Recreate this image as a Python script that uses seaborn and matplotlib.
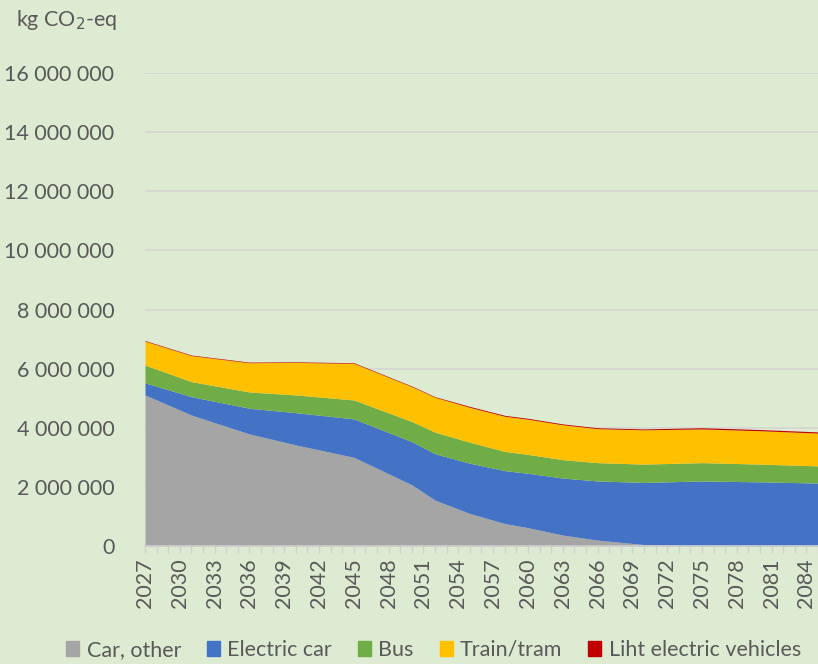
import matplotlib
matplotlib.use("Agg")
import matplotlib.pyplot as plt
from matplotlib.patches import Patch
from matplotlib.ticker import FuncFormatter, MultipleLocator
import numpy as np
import pandas as pd
import seaborn as sns

# values, in million kg CO2-eq, at the years where the curves bend
years = [2027, 2031, 2036, 2040, 2045, 2050, 2052, 2055, 2058, 2060, 2063, 2066, 2070, 2075, 2080, 2085]
car_other = [5.11, 4.43, 3.79, 3.42, 3.00, 2.07, 1.55, 1.10, 0.76, 0.62, 0.37, 0.20, 0.05, 0.00, 0.00, 0.00]
electric_car = [0.41, 0.62, 0.87, 1.09, 1.30, 1.46, 1.57, 1.70, 1.79, 1.84, 1.93, 2.00, 2.10, 2.20, 2.17, 2.13]
bus = [0.60, 0.51, 0.55, 0.60, 0.64, 0.68, 0.73, 0.71, 0.65, 0.64, 0.62, 0.62, 0.62, 0.62, 0.60, 0.58]
train_tram = [0.81, 0.88, 0.99, 1.10, 1.24, 1.18, 1.18, 1.18, 1.19, 1.19, 1.18, 1.15, 1.16, 1.14, 1.13, 1.11]
light_ev = [0.02, 0.02, 0.02, 0.02, 0.02, 0.02, 0.02, 0.03, 0.03, 0.03, 0.03, 0.03, 0.03, 0.04, 0.04, 0.04]

names = ["Car, other", "Electric car", "Bus", "Train/tram", "Liht electric vehicles"]
colors = ["#A5A5A5", "#4472C4", "#70AD47", "#FFC000", "#C00000"]

df = pd.DataFrame({"year": years, names[0]: car_other, names[1]: electric_car,
                   names[2]: bus, names[3]: train_tram, names[4]: light_ev})

bg = "#DEEBD3"
txt = "#595959"
fs = 15.5
sns.set_theme(style="white", rc={"axes.facecolor": bg, "figure.facecolor": bg})
plt.rcParams["font.family"] = ["Lato", "DejaVu Sans"]

fig = plt.figure(figsize=(8.18, 6.64), dpi=100)
ax = fig.add_axes([145 / 818, 1 - 546 / 664, 1 - 145 / 818, (546 - 73) / 664])

ax.stackplot(df["year"], *[df[n] * 1e6 for n in names], colors=colors, linewidth=0)

ax.set_xlim(2027, 2085)
ax.set_ylim(0, 16e6)
ax.yaxis.set_major_locator(MultipleLocator(2e6))
ax.yaxis.set_major_formatter(FuncFormatter(lambda v, p: f"{int(v):,}".replace(",", " ")))
ax.grid(axis="y", color="#D4D6D0", linewidth=1.2)
ax.set_axisbelow(True)

ax.set_xticks(range(2027, 2085, 3))
ax.xaxis.set_minor_locator(MultipleLocator(1))
ax.tick_params(axis="x", which="both", direction="out", length=5, color="#D0D0D0", width=1,
               labelrotation=90, labelsize=fs, labelcolor=txt, pad=4, bottom=True)
ax.tick_params(axis="y", length=0, labelsize=fs, labelcolor=txt, pad=22)

for s in ["top", "right", "left"]:
    ax.spines[s].set_visible(False)
ax.spines["bottom"].set_color("#D0D0D0")
ax.spines["bottom"].set_linewidth(1.2)

fig.text(16 / 818, 1 - 20 / 664, "kg CO$_2$-eq", fontsize=fs, color=txt, va="center", ha="left")

handles = [Patch(facecolor=c, edgecolor=c) for c in colors]
fig.legend(handles, names, loc="center", bbox_to_anchor=(0.53, 1 - 650 / 664), ncol=5,
           frameon=False, fontsize=fs, labelcolor=txt, handlelength=0.6, handleheight=0.7,
           handletextpad=0.35, columnspacing=1.2)

fig.savefig("out.png", dpi=100, facecolor=bg)
